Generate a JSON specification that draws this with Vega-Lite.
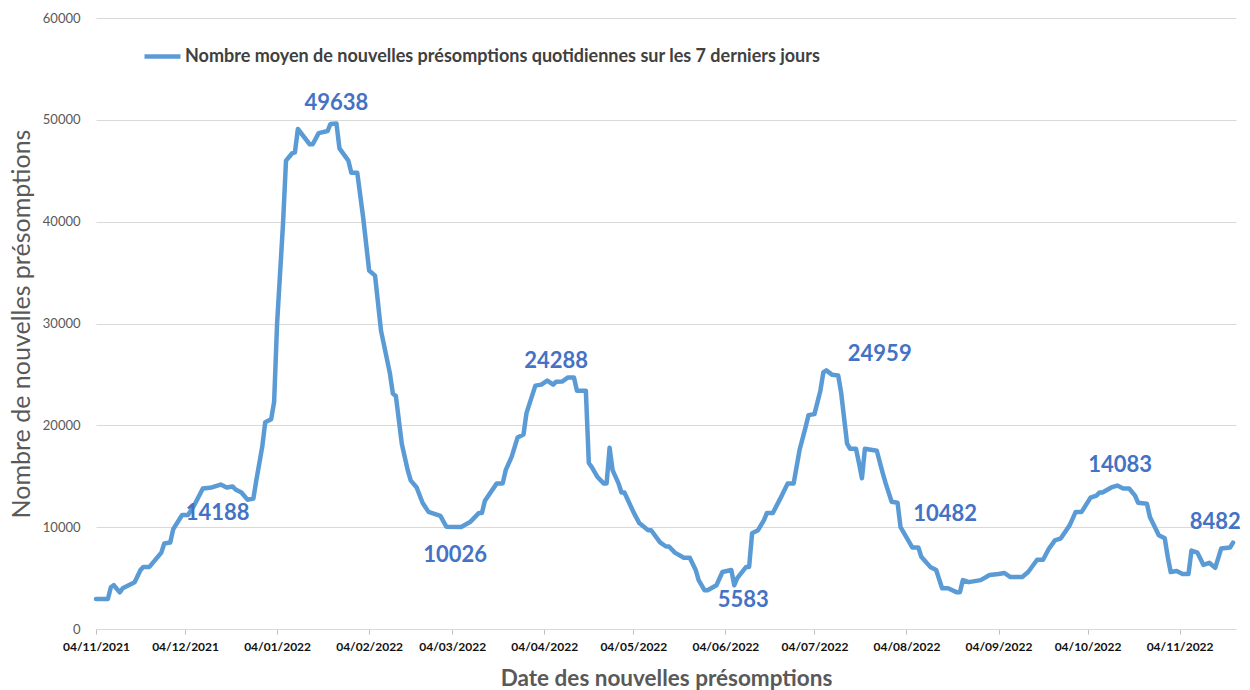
{
  "$schema": "https://vega.github.io/schema/vega-lite/v6.json",
  "width": 1140,
  "height": 611,
  "autosize": "none",
  "padding": {"left": 96, "top": 18, "right": 14, "bottom": 61},
  "background": "white",
  "config": {
    "font": "Lato",
    "view": {"stroke": null}
  },
  "datasets": {
    "serie": [
      {"date": "2021-11-04", "valeur": 2940},
      {"date": "2021-11-08", "valeur": 2940},
      {"date": "2021-11-09", "valeur": 4100},
      {"date": "2021-11-10", "valeur": 4300},
      {"date": "2021-11-12", "valeur": 3600},
      {"date": "2021-11-13", "valeur": 4000},
      {"date": "2021-11-17", "valeur": 4600},
      {"date": "2021-11-19", "valeur": 5800},
      {"date": "2021-11-20", "valeur": 6100},
      {"date": "2021-11-22", "valeur": 6100},
      {"date": "2021-11-26", "valeur": 7500},
      {"date": "2021-11-27", "valeur": 8400},
      {"date": "2021-11-29", "valeur": 8500},
      {"date": "2021-11-30", "valeur": 9800},
      {"date": "2021-12-03", "valeur": 11200},
      {"date": "2021-12-05", "valeur": 11200},
      {"date": "2021-12-07", "valeur": 12100},
      {"date": "2021-12-10", "valeur": 13800},
      {"date": "2021-12-13", "valeur": 13900},
      {"date": "2021-12-16", "valeur": 14188},
      {"date": "2021-12-18", "valeur": 13900},
      {"date": "2021-12-20", "valeur": 14000},
      {"date": "2021-12-21", "valeur": 13700},
      {"date": "2021-12-23", "valeur": 13400},
      {"date": "2021-12-25", "valeur": 12700},
      {"date": "2021-12-27", "valeur": 12800},
      {"date": "2021-12-28", "valeur": 14600},
      {"date": "2021-12-30", "valeur": 17900},
      {"date": "2021-12-31", "valeur": 20300},
      {"date": "2022-01-02", "valeur": 20600},
      {"date": "2022-01-03", "valeur": 22300},
      {"date": "2022-01-04", "valeur": 30000},
      {"date": "2022-01-06", "valeur": 39800},
      {"date": "2022-01-07", "valeur": 46000},
      {"date": "2022-01-09", "valeur": 46700},
      {"date": "2022-01-10", "valeur": 46800},
      {"date": "2022-01-11", "valeur": 49100},
      {"date": "2022-01-15", "valeur": 47600},
      {"date": "2022-01-16", "valeur": 47600},
      {"date": "2022-01-18", "valeur": 48700},
      {"date": "2022-01-21", "valeur": 48900},
      {"date": "2022-01-22", "valeur": 49600},
      {"date": "2022-01-24", "valeur": 49638},
      {"date": "2022-01-25", "valeur": 47200},
      {"date": "2022-01-28", "valeur": 46000},
      {"date": "2022-01-29", "valeur": 44800},
      {"date": "2022-01-31", "valeur": 44800},
      {"date": "2022-02-02", "valeur": 40400},
      {"date": "2022-02-04", "valeur": 35200},
      {"date": "2022-02-06", "valeur": 34700},
      {"date": "2022-02-08", "valeur": 29300},
      {"date": "2022-02-11", "valeur": 25100},
      {"date": "2022-02-12", "valeur": 23100},
      {"date": "2022-02-13", "valeur": 22900},
      {"date": "2022-02-15", "valeur": 18200},
      {"date": "2022-02-17", "valeur": 15600},
      {"date": "2022-02-18", "valeur": 14600},
      {"date": "2022-02-20", "valeur": 13900},
      {"date": "2022-02-22", "valeur": 12400},
      {"date": "2022-02-24", "valeur": 11500},
      {"date": "2022-02-27", "valeur": 11200},
      {"date": "2022-02-28", "valeur": 11100},
      {"date": "2022-03-02", "valeur": 10050},
      {"date": "2022-03-07", "valeur": 10026},
      {"date": "2022-03-10", "valeur": 10500},
      {"date": "2022-03-13", "valeur": 11400},
      {"date": "2022-03-14", "valeur": 11400},
      {"date": "2022-03-15", "valeur": 12600},
      {"date": "2022-03-19", "valeur": 14300},
      {"date": "2022-03-21", "valeur": 14300},
      {"date": "2022-03-22", "valeur": 15600},
      {"date": "2022-03-24", "valeur": 16900},
      {"date": "2022-03-26", "valeur": 18800},
      {"date": "2022-03-28", "valeur": 19100},
      {"date": "2022-03-29", "valeur": 21200},
      {"date": "2022-04-01", "valeur": 23900},
      {"date": "2022-04-03", "valeur": 24000},
      {"date": "2022-04-05", "valeur": 24400},
      {"date": "2022-04-07", "valeur": 24000},
      {"date": "2022-04-08", "valeur": 24288},
      {"date": "2022-04-10", "valeur": 24300},
      {"date": "2022-04-12", "valeur": 24700},
      {"date": "2022-04-14", "valeur": 24700},
      {"date": "2022-04-15", "valeur": 23400},
      {"date": "2022-04-18", "valeur": 23400},
      {"date": "2022-04-19", "valeur": 16300},
      {"date": "2022-04-20", "valeur": 15900},
      {"date": "2022-04-22", "valeur": 14900},
      {"date": "2022-04-24", "valeur": 14300},
      {"date": "2022-04-25", "valeur": 14300},
      {"date": "2022-04-26", "valeur": 17800},
      {"date": "2022-04-27", "valeur": 15600},
      {"date": "2022-04-29", "valeur": 14300},
      {"date": "2022-04-30", "valeur": 13400},
      {"date": "2022-05-01", "valeur": 13400},
      {"date": "2022-05-04", "valeur": 11500},
      {"date": "2022-05-06", "valeur": 10400},
      {"date": "2022-05-09", "valeur": 9700},
      {"date": "2022-05-10", "valeur": 9700},
      {"date": "2022-05-13", "valeur": 8500},
      {"date": "2022-05-15", "valeur": 8100},
      {"date": "2022-05-16", "valeur": 8100},
      {"date": "2022-05-18", "valeur": 7500},
      {"date": "2022-05-21", "valeur": 7000},
      {"date": "2022-05-23", "valeur": 7000},
      {"date": "2022-05-25", "valeur": 5800},
      {"date": "2022-05-26", "valeur": 4800},
      {"date": "2022-05-28", "valeur": 3800},
      {"date": "2022-05-29", "valeur": 3800},
      {"date": "2022-06-01", "valeur": 4300},
      {"date": "2022-06-03", "valeur": 5600},
      {"date": "2022-06-06", "valeur": 5800},
      {"date": "2022-06-07", "valeur": 4300},
      {"date": "2022-06-08", "valeur": 5000},
      {"date": "2022-06-11", "valeur": 6100},
      {"date": "2022-06-12", "valeur": 6100},
      {"date": "2022-06-13", "valeur": 9400},
      {"date": "2022-06-15", "valeur": 9700},
      {"date": "2022-06-17", "valeur": 10700},
      {"date": "2022-06-18", "valeur": 11400},
      {"date": "2022-06-20", "valeur": 11400},
      {"date": "2022-06-23", "valeur": 13100},
      {"date": "2022-06-25", "valeur": 14300},
      {"date": "2022-06-27", "valeur": 14300},
      {"date": "2022-06-29", "valeur": 17600},
      {"date": "2022-07-01", "valeur": 19800},
      {"date": "2022-07-02", "valeur": 21000},
      {"date": "2022-07-04", "valeur": 21100},
      {"date": "2022-07-06", "valeur": 23400},
      {"date": "2022-07-07", "valeur": 25200},
      {"date": "2022-07-08", "valeur": 25400},
      {"date": "2022-07-10", "valeur": 24959},
      {"date": "2022-07-12", "valeur": 24900},
      {"date": "2022-07-13", "valeur": 23200},
      {"date": "2022-07-15", "valeur": 18200},
      {"date": "2022-07-16", "valeur": 17700},
      {"date": "2022-07-18", "valeur": 17700},
      {"date": "2022-07-19", "valeur": 16300},
      {"date": "2022-07-20", "valeur": 14800},
      {"date": "2022-07-21", "valeur": 17700},
      {"date": "2022-07-25", "valeur": 17500},
      {"date": "2022-07-27", "valeur": 15300},
      {"date": "2022-07-28", "valeur": 14300},
      {"date": "2022-07-30", "valeur": 12500},
      {"date": "2022-08-01", "valeur": 12400},
      {"date": "2022-08-02", "valeur": 10000},
      {"date": "2022-08-04", "valeur": 9000},
      {"date": "2022-08-06", "valeur": 8000},
      {"date": "2022-08-08", "valeur": 8000},
      {"date": "2022-08-09", "valeur": 7100},
      {"date": "2022-08-12", "valeur": 6100},
      {"date": "2022-08-14", "valeur": 5800},
      {"date": "2022-08-16", "valeur": 4000},
      {"date": "2022-08-18", "valeur": 4000},
      {"date": "2022-08-21", "valeur": 3600},
      {"date": "2022-08-22", "valeur": 3600},
      {"date": "2022-08-23", "valeur": 4800},
      {"date": "2022-08-25", "valeur": 4600},
      {"date": "2022-08-29", "valeur": 4800},
      {"date": "2022-09-01", "valeur": 5300},
      {"date": "2022-09-04", "valeur": 5400},
      {"date": "2022-09-06", "valeur": 5500},
      {"date": "2022-09-08", "valeur": 5100},
      {"date": "2022-09-12", "valeur": 5100},
      {"date": "2022-09-14", "valeur": 5600},
      {"date": "2022-09-17", "valeur": 6800},
      {"date": "2022-09-19", "valeur": 6800},
      {"date": "2022-09-21", "valeur": 7900},
      {"date": "2022-09-23", "valeur": 8700},
      {"date": "2022-09-25", "valeur": 8900},
      {"date": "2022-09-28", "valeur": 10200},
      {"date": "2022-09-30", "valeur": 11500},
      {"date": "2022-10-02", "valeur": 11500},
      {"date": "2022-10-05", "valeur": 12900},
      {"date": "2022-10-07", "valeur": 13100},
      {"date": "2022-10-08", "valeur": 13400},
      {"date": "2022-10-09", "valeur": 13400},
      {"date": "2022-10-12", "valeur": 13900},
      {"date": "2022-10-14", "valeur": 14083},
      {"date": "2022-10-16", "valeur": 13800},
      {"date": "2022-10-18", "valeur": 13800},
      {"date": "2022-10-20", "valeur": 13100},
      {"date": "2022-10-21", "valeur": 12400},
      {"date": "2022-10-24", "valeur": 12300},
      {"date": "2022-10-25", "valeur": 11000},
      {"date": "2022-10-28", "valeur": 9200},
      {"date": "2022-10-30", "valeur": 8900},
      {"date": "2022-10-31", "valeur": 7100},
      {"date": "2022-11-01", "valeur": 5600},
      {"date": "2022-11-03", "valeur": 5700},
      {"date": "2022-11-05", "valeur": 5400},
      {"date": "2022-11-07", "valeur": 5400},
      {"date": "2022-11-08", "valeur": 7700},
      {"date": "2022-11-10", "valeur": 7500},
      {"date": "2022-11-12", "valeur": 6300},
      {"date": "2022-11-14", "valeur": 6500},
      {"date": "2022-11-16", "valeur": 6000},
      {"date": "2022-11-18", "valeur": 7900},
      {"date": "2022-11-21", "valeur": 8000},
      {"date": "2022-11-22", "valeur": 8482}
    ],
    "etiquettes": [
      {"date": "2022-01-24", "valeur": 49638},
      {"date": "2021-12-15", "valeur": 14188},
      {"date": "2022-03-05", "valeur": 10026},
      {"date": "2022-04-08", "valeur": 24288},
      {"date": "2022-06-10", "valeur": 5583},
      {"date": "2022-07-26", "valeur": 24959},
      {"date": "2022-08-17", "valeur": 10482},
      {"date": "2022-10-15", "valeur": 14083},
      {"date": "2022-11-16", "valeur": 8482}
    ]
  },
  "encoding": {
    "x": {
      "field": "date",
      "type": "temporal",
      "scale": {
        "type": "utc",
        "domain": [
          {"year": 2021, "month": 11, "date": 4, "utc": true},
          {"year": 2022, "month": 11, "date": 23, "utc": true}
        ]
      },
      "axis": {
        "title": "Date des nouvelles présomptions",
        "titleFontSize": 22.5,
        "titleFontWeight": "bold",
        "titleColor": "#595959",
        "titlePadding": 15,
        "format": "%d/%m/%Y",
        "values": [
          {"year": 2021, "month": 11, "date": 4, "utc": true},
          {"year": 2021, "month": 12, "date": 4, "utc": true},
          {"year": 2022, "month": 1, "date": 4, "utc": true},
          {"year": 2022, "month": 2, "date": 4, "utc": true},
          {"year": 2022, "month": 3, "date": 4, "utc": true},
          {"year": 2022, "month": 4, "date": 4, "utc": true},
          {"year": 2022, "month": 5, "date": 4, "utc": true},
          {"year": 2022, "month": 6, "date": 4, "utc": true},
          {"year": 2022, "month": 7, "date": 4, "utc": true},
          {"year": 2022, "month": 8, "date": 4, "utc": true},
          {"year": 2022, "month": 9, "date": 4, "utc": true},
          {"year": 2022, "month": 10, "date": 4, "utc": true},
          {"year": 2022, "month": 11, "date": 4, "utc": true}
        ],
        "labelFontSize": 12,
        "labelFontWeight": "bold",
        "labelColor": "#111111",
        "labelFlush": false,
        "labelOverlap": false,
        "labelPadding": 7,
        "grid": false,
        "tickColor": "#bfbfbf",
        "tickSize": 5,
        "domainColor": "#d9d9d9"
      }
    },
    "y": {
      "field": "valeur",
      "type": "quantitative",
      "scale": {"domain": [0, 60000], "nice": false},
      "axis": {
        "title": "Nombre de nouvelles présomptions",
        "titleFontSize": 25,
        "titleFontWeight": "normal",
        "titleColor": "#595959",
        "titlePadding": 8,
        "values": [0, 10000, 20000, 30000, 40000, 50000, 60000],
        "format": "d",
        "labelFontSize": 13,
        "labelColor": "#595959",
        "labelPadding": 16,
        "ticks": false,
        "domain": false,
        "gridColor": "#d9d9d9",
        "gridWidth": 1
      }
    }
  },
  "layer": [
    {
      "data": {"name": "serie"},
      "mark": {"type": "line", "strokeWidth": 4.5, "strokeJoin": "round", "strokeCap": "round"},
      "encoding": {
        "color": {
          "datum": "Nombre moyen de nouvelles présomptions quotidiennes sur les 7 derniers jours",
          "scale": {"range": ["#5B9BD5"]},
          "legend": {
            "title": null,
            "orient": "none",
            "legendX": 46,
            "legendY": 18,
            "symbolType": "stroke",
            "symbolSize": 1296,
            "symbolStrokeWidth": 4.5,
            "labelFontSize": 18,
            "labelFontWeight": "bold",
            "labelColor": "#404040",
            "labelLimit": 1000,
            "labelOffset": 2
          }
        }
      }
    },
    {
      "data": {"name": "etiquettes"},
      "transform": [{"filter": {"field": "valeur", "oneOf": [49638, 24288, 24959, 14083, 8482]}}],
      "mark": {"type": "text", "dy": -21, "fontSize": 22, "fontWeight": "bold", "color": "#4472C4"},
      "encoding": {"text": {"field": "valeur", "type": "quantitative", "format": "d"}}
    },
    {
      "data": {"name": "etiquettes"},
      "transform": [{"filter": {"field": "valeur", "oneOf": [14188, 10026, 5583]}}],
      "mark": {"type": "text", "dy": 28, "fontSize": 22, "fontWeight": "bold", "color": "#4472C4"},
      "encoding": {"text": {"field": "valeur", "type": "quantitative", "format": "d"}}
    },
    {
      "data": {"name": "etiquettes"},
      "transform": [{"filter": {"field": "valeur", "oneOf": [10482]}}],
      "mark": {"type": "text", "dy": -8, "fontSize": 22, "fontWeight": "bold", "color": "#4472C4"},
      "encoding": {"text": {"field": "valeur", "type": "quantitative", "format": "d"}}
    }
  ]
}
